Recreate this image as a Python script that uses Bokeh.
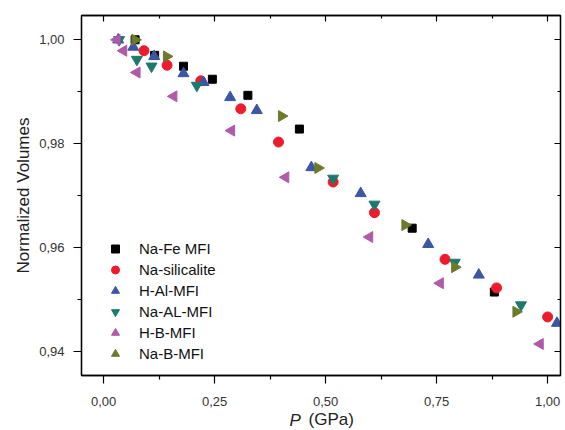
from bokeh.plotting import figure
from bokeh.models import (Range1d, FixedTicker, CustomJSTickFormatter, LinearAxis,
                          Legend, LegendItem, Label, CustomLabelingPolicy)
from bokeh.embed import file_html
from bokeh.resources import INLINE
import math

# ---- data ----
nafe_x = [0.071, 0.115, 0.180, 0.245, 0.325, 0.441, 0.695, 0.880]
nafe_y = [1.000, 0.9970, 0.9949, 0.9924, 0.9893, 0.9828, 0.9637, 0.9514]

nasil_x = [0.091, 0.143, 0.219, 0.309, 0.394, 0.517, 0.610, 0.769, 0.885, 1.000]
nasil_y = [0.9979, 0.9951, 0.9921, 0.9867, 0.9803, 0.9726, 0.9667, 0.9577, 0.9522, 0.9466]

hal_x = [0.033, 0.067, 0.114, 0.180, 0.225, 0.285, 0.345, 0.468, 0.579, 0.731, 0.845, 1.021]
hal_y = [1.000, 0.9986, 0.9968, 0.9935, 0.9918, 0.9889, 0.9864, 0.9754, 0.9704, 0.9606, 0.9547, 0.9454]

naal_x = [0.035, 0.075, 0.108, 0.210, 0.517, 0.610, 0.791, 0.940]
naal_y = [1.000, 0.9962, 0.9949, 0.9912, 0.9733, 0.9683, 0.9571, 0.9489]

hb_x = [0.030, 0.045, 0.075, 0.158, 0.288, 0.410, 0.599, 0.758, 0.983]
hb_y = [1.000, 0.9979, 0.9937, 0.9891, 0.9825, 0.9735, 0.9620, 0.9531, 0.9414]

nab_x = [0.071, 0.142, 0.401, 0.483, 0.679, 0.791, 0.929]
nab_y = [1.000, 0.9968, 0.9853, 0.9753, 0.9643, 0.9562, 0.9476]

series_names = ["Na-Fe MFI", "Na-silicalite", "H-Al-MFI", "Na-AL-MFI", "H-B-MFI", "Na-B-MFI"]

x_ticks = [0.0, 0.25, 0.5, 0.75, 1.0]
x_minor = [0.125, 0.375, 0.625, 0.875]
y_ticks = [0.94, 0.96, 0.98, 1.00]
y_minor = [0.95, 0.97, 0.99]

# ---- figure ----
p = figure(width=565, height=430, output_backend="svg", toolbar_location=None,
           x_range=Range1d(-0.0497, 1.029), y_range=Range1d(0.93532, 1.00468),
           min_border_left=76, min_border_top=15, min_border_right=0, min_border_bottom=55)
p.background_fill_color = "white"
p.border_fill_color = "white"
p.outline_line_color = "black"
p.outline_line_width = 1.3
p.xgrid.visible = False
p.ygrid.visible = False

fmt = CustomJSTickFormatter(code="return tick.toFixed(2).replace('.', ',');")
FONT = "Liberation Sans"

for ax in (p.xaxis[0], p.yaxis[0]):
    ax.formatter = fmt
    ax.major_label_text_font = FONT
    ax.major_label_text_font_size = "13px"
    ax.major_label_text_color = "#333333"
    ax.major_tick_out = 8
    ax.major_tick_in = 0
    ax.minor_tick_out = 4
    ax.minor_tick_in = 0
    ax.axis_line_width = 1.3
    ax.major_tick_line_width = 1.2
    ax.minor_tick_line_width = 1.2
    ax.axis_label_text_font = FONT
    ax.axis_label_text_font_style = "normal"
    ax.axis_label_text_font_size = "17px"
    ax.axis_label_text_color = "#222222"

p.xaxis[0].ticker = FixedTicker(ticks=x_ticks, minor_ticks=x_minor)
p.yaxis[0].ticker = FixedTicker(ticks=y_ticks, minor_ticks=y_minor)
p.yaxis[0].major_label_standoff = 9
p.yaxis[0].axis_label = "Normalized Volumes"
p.yaxis[0].axis_label_standoff = 3
p.xaxis[0].major_label_standoff = 13
p.xaxis[0].axis_label = None

# right and top axes: tick marks only, no labels drawn
hide_all = CustomLabelingPolicy(
    code="for (let i = 0; i < indices.size; i++) { indices.unset(i) } return indices")


def tick_axis(ticks, minor):
    return LinearAxis(ticker=FixedTicker(ticks=ticks, minor_ticks=minor),
                      major_label_policy=hide_all,
                      major_label_text_font_size="1px", major_label_standoff=0,
                      axis_label_standoff=0,
                      major_tick_in=6, major_tick_out=0, minor_tick_in=3, minor_tick_out=0,
                      axis_line_width=1.3, major_tick_line_width=1.2,
                      minor_tick_line_width=1.2)


p.add_layout(tick_axis(y_ticks, y_minor), "right")
p.add_layout(tick_axis(x_ticks, x_minor), "above")

# ---- scatter series ----
r1 = p.scatter(nafe_x, nafe_y, marker="square", size=8, color="#000000")
r2 = p.scatter(nasil_x, nasil_y, marker="circle", size=10, color="#ec1c2c")
r3 = p.scatter(hal_x, hal_y, marker="triangle", size=11, color="#3c55a5")
r4 = p.scatter(naal_x, naal_y, marker="inverted_triangle", size=11, color="#1c7a6c")
r5 = p.scatter(hb_x, hb_y, marker="triangle", angle=math.pi / 2, size=11, color="#b05aa8")
r6 = p.scatter(nab_x, nab_y, marker="triangle", angle=-math.pi / 2, size=11, color="#6b7b2a")

legend = Legend(items=[LegendItem(label=n, renderers=[r]) for n, r in
                       zip(series_names, [r1, r2, r3, r4, r5, r6])],
                location=(24, 11), padding=0, margin=0, spacing=0,
                glyph_width=20, glyph_height=21, label_height=21, label_standoff=14,
                label_text_font=FONT, label_text_font_size="15px", label_text_color="#111111",
                border_line_color=None, background_fill_alpha=0)
p.add_layout(legend)

# x-axis title: italic "P" (in the left panel's spare room) + "(GPa)" (below panel)
p.add_layout(Label(x=289, y=-45, x_units="screen", y_units="screen", text="P",
                   text_font=FONT, text_font_size="17px", text_font_style="italic",
                   text_baseline="middle", text_align="left", text_color="#222222"), "left")
p.add_layout(Label(x=227, y=8, x_units="screen", y_units="screen", text="(GPa)",
                   text_font=FONT, text_font_size="17px",
                   text_baseline="middle", text_align="left", text_color="#222222"), "below")

open("out.html", "w").write(file_html(p, INLINE))
